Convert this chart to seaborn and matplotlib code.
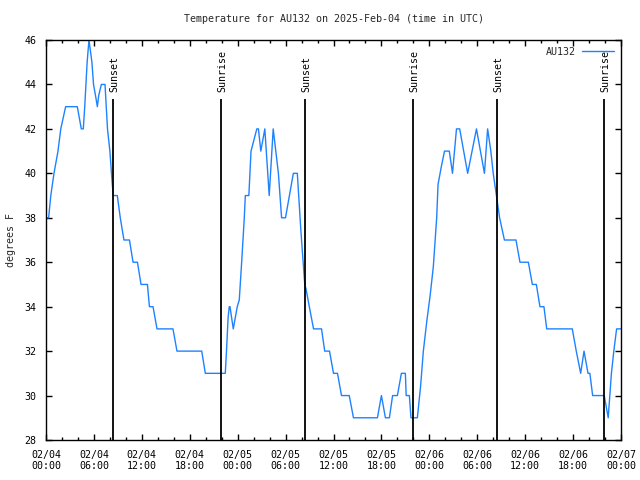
import seaborn as sns
import pandas as pd
import matplotlib
matplotlib.use('Agg')
import matplotlib.pyplot as plt
import matplotlib.dates as mdates

sns.set_style('ticks')
plt.rcParams['font.family'] = ['DejaVu Sans Mono', 'DejaVu Sans']

# hours since 2025-02-04 00:00 UTC and temperature (F)
hours = [0.0, 0.33, 0.6, 1.0, 1.5, 1.85, 2.46, 3.92, 4.42, 4.67, 4.85, 5.0, 5.15, 5.38,
         5.75, 5.95, 6.2, 6.43, 6.6, 6.93, 7.39, 7.7, 8.0, 8.3, 8.42, 8.93, 9.3, 9.76,
         10.45, 10.9, 11.45, 11.9, 12.7, 12.95, 13.4, 13.9, 15.9, 16.4, 19.5, 19.95,
         22.45, 22.6, 22.8, 22.95, 23.04, 23.45, 23.95, 24.2, 24.5, 24.83, 24.96, 25.4,
         25.67, 26.4, 26.6, 26.9, 27.4, 27.95, 28.45, 29.1, 29.5, 29.99, 30.97, 31.47,
         31.9, 32.4, 32.56, 32.97, 33.5, 34.5, 34.9, 35.5, 36.0, 36.5, 37.0, 37.97,
         38.5, 41.5, 42.0, 42.5, 43.0, 43.4, 44.0, 44.5, 45.0, 45.1, 45.5, 45.7, 46.5,
         46.9, 47.25, 47.7, 48.1, 48.5, 48.92, 49.09, 49.5, 49.9, 50.5, 50.9, 51.4,
         51.8, 52.8, 53.9, 54.9, 55.3, 55.7, 56.0, 56.4, 56.8, 57.4, 58.85, 59.35,
         60.4, 60.9, 61.4, 61.85, 62.35, 62.7, 65.9, 66.4, 66.95, 67.37, 67.87, 68.1,
         68.45, 69.9, 70.4, 70.8, 71.1, 71.45, 72.0]
temps = [38, 38, 39, 40, 41, 42, 43, 43, 42, 42, 43, 44, 45, 46,
         45, 44, 43.5, 43, 43.5, 44, 44, 42, 41, 39.5, 39, 39, 38, 37,
         37, 36, 36, 35, 35, 34, 34, 33, 33, 32, 32, 31,
         31, 32, 33.5, 34, 34, 33, 34, 34.3, 36, 38, 39, 39,
         41, 42, 42, 41, 42, 39, 42, 40, 38, 38, 40, 40,
         37.5, 35, 34.8, 34, 33, 33, 32, 32, 31, 31, 30, 30,
         29, 29, 30, 29, 29, 30, 30, 31, 31, 30, 30, 29, 29,
         30.4, 32, 33.4, 34.5, 35.8, 38, 39.5, 40.3, 41, 41, 40, 42,
         42, 40, 42, 40, 42, 41, 40, 39, 38, 37, 37, 36,
         36, 35, 35, 34, 34, 33, 33, 32, 31, 32, 31, 31,
         30, 30, 29, 31, 32, 33, 33]

sun_labels = ['Sunset', 'Sunrise', 'Sunset', 'Sunrise', 'Sunset', 'Sunrise']
sun_hours = [8.43, 21.95, 32.47, 46.0, 56.5, 69.9]

start = pd.Timestamp('2025-02-04 00:00')
df = pd.DataFrame({'time': start + pd.to_timedelta(hours, unit='h'), 'AU132': temps})

fig = plt.figure(figsize=(6.4, 4.8), dpi=100)
ax = fig.add_axes([46 / 640, 40 / 480, 575 / 640, 400 / 480])

sns.lineplot(data=df, x='time', y='AU132', ax=ax, color='#1e82ff', linewidth=1.0, label='AU132')

for lab, h in zip(sun_labels, sun_hours):
    t = start + pd.Timedelta(hours=h)
    ax.vlines(t, 28, 43.35, color='black', linewidth=1.3)
    ax.text(t + pd.Timedelta(minutes=10), 43.66, lab, rotation=90, ha='center', va='bottom',
            fontsize=7.2, color='black')

ax.set_xlim(start, start + pd.Timedelta(hours=72))
ax.set_ylim(28, 46)
ax.set_yticks(range(28, 47, 2))
ax.xaxis.set_major_locator(mdates.HourLocator(byhour=range(0, 24, 6)))
ax.xaxis.set_minor_locator(mdates.HourLocator(byhour=range(0, 24, 2)))
ax.xaxis.set_major_formatter(mdates.DateFormatter('%m/%d\n%H:%M'))

ax.tick_params(which='both', direction='in', top=True, right=True, labelsize=7.2,
               colors='black', width=1)
ax.tick_params(which='major', length=4.5, pad=7)
ax.tick_params(which='minor', length=2.5)
for s in ax.spines.values():
    s.set_color('black')
    s.set_linewidth(1)

ax.set_xlabel('')
ax.set_ylabel('degrees F', fontsize=7.2)
ax.yaxis.set_label_coords(-0.053, 0.5)
ax.set_title('Temperature for AU132 on 2025-Feb-04 (time in UTC)', fontsize=7.2, pad=13)

ax.legend(loc='upper right', frameon=False, markerfirst=False, fontsize=7.2,
          handlelength=3.2, borderaxespad=0.3, handletextpad=0.6)

plt.savefig('out.png', dpi=100)
